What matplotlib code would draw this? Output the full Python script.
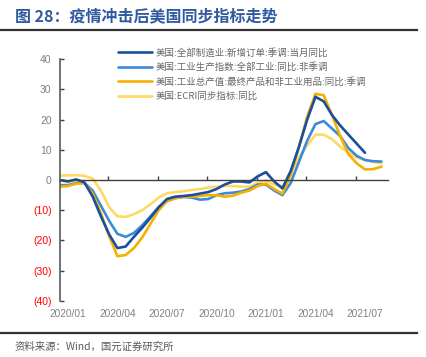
import matplotlib
matplotlib.use("Agg")
import matplotlib.pyplot as plt
from matplotlib.lines import Line2D

plt.rcParams['font.family'] = ['Liberation Sans', 'Noto Sans CJK SC', 'DejaVu Sans']

# months counted from 2020/01 (= 0), half-month steps
months = [-0.5, 0, 0.5, 1, 1.5, 2, 2.5, 3, 3.5, 4, 4.5, 5, 5.5, 6, 6.5, 7, 7.5, 8, 8.5, 9,
          9.5, 10, 10.5, 11, 11.5, 12, 12.5, 13, 13.5, 14, 14.5, 15, 15.5, 16, 16.5, 17,
          17.5, 18, 18.5, 19]

# 美国:全部制造业:新增订单 (ends 2021/07)
new_orders = [0, -0.5, 0.2, -0.8, -5.5, -12, -18, -22.5, -22, -18.8, -15.8, -12.5, -9, -6.3,
              -5.5, -5.3, -5, -4.5, -4, -3, -1.5, -0.5, -0.5, -0.8, 1.2, 2.6, -0.5, -2.8,
              3, 11, 20, 27.5, 26, 21.5, 18, 15, 12, 9]
# 美国:工业生产指数
ind_prod = [-1.7, -1.7, -1.0, -1.0, -3.5, -8.5, -13.5, -17.8, -18.8, -17.5, -15, -12, -9, -7,
            -6, -5.6, -5.8, -6.5, -6.3, -5, -4.4, -4.2, -3.8, -3, -1.5, -1.5, -3.5, -5,
            -1, 6, 13, 18.5, 19.5, 17, 14.5, 10.5, 8, 6.6, 6.2, 6.1]
# 美国:工业总产值:最终产品和非工业用品
final_prod = [-2.2, -2.0, -1.2, -1.0, -4.5, -11, -18.5, -25.2, -24.8, -22.5, -19, -14.5, -10,
              -7, -6, -5.5, -5.5, -5.3, -5, -5, -5.5, -5.2, -4.2, -3.5, -2, -1.2, -3, -4.5,
              1.5, 11, 21, 28.5, 28, 21.5, 14.5, 8.5, 5.5, 3.5, 3.6, 4.4]
# 美国:ECRI同步指标
ecri = [1.5, 1.5, 1.6, 1.4, 0.5, -3.5, -9, -12, -12.2, -11.3, -10, -8, -5.8, -4.4, -4, -3.7,
        -3.3, -3, -2.5, -2.2, -2, -2, -2.2, -2.2, -1, -0.2, -1.5, -2.2, 2.5, 7.5, 11.5, 15,
        15, 13.5, 11, 9, 7.5, 6.6, 6, 5.5]

labels = ['美国:全部制造业:新增订单:季调:当月同比',
          '美国:工业生产指数:全部工业:同比:非季调',
          '美国:工业总产值:最终产品和非工业用品:同比:季调',
          '美国:ECRI同步指标:同比']
colors = ['#1a4f9e', '#3d8ad6', '#f5b000', '#ffd966']

xlabels = ['2020/01', '2020/04', '2020/07', '2020/10', '2021/01', '2021/04', '2021/07']
xlabel_pos = [0, 3, 6, 9, 12, 15, 18]
xtick_pos = [2.45, 5.45, 8.45, 11.45, 14.45, 17.45]

fig = plt.figure(figsize=(4.26, 3.57), dpi=100)
ax = fig.add_axes([0.1408, 0.1569, 0.911 - 0.1408, 0.8347 - 0.1569])

series = [new_orders, ind_prod, final_prod, ecri]
# draw light lines first so dark blue stays on top
order = [3, 1, 2, 0]
handles = [None] * 4
for i in order:
    ys = series[i]
    h, = ax.plot(months[:len(ys)], ys, color=colors[i], lw=1.9,
                 solid_capstyle='round', solid_joinstyle='round')
    handles[i] = h

ax.set_xlim(-0.48, 19.4)
ax.set_ylim(-40, 40)

for s in ['top', 'right']:
    ax.spines[s].set_visible(False)
ax.spines['left'].set_color('#595959')
ax.spines['left'].set_linewidth(1.2)
ax.spines['bottom'].set_position(('data', 0))
ax.spines['bottom'].set_color('#404040')
ax.spines['bottom'].set_linewidth(1.0)

yt = list(range(-40, 41, 10))
ax.set_yticks(yt)
ax.set_yticklabels(['(%d)' % -v if v < 0 else str(v) for v in yt])
for v, t in zip(yt, ax.get_yticklabels()):
    t.set_color('#ff0000' if v < 0 else '#808080')
ax.tick_params(axis='y', direction='in', length=3, width=1, color='#404040',
               labelsize=7.5, pad=6)

ax.set_xticks(xtick_pos)
ax.set_xticklabels([])
ax.tick_params(axis='x', direction='in', length=3, width=1, color='#404040')

sec = ax.secondary_xaxis('bottom')
sec.set_xticks(xlabel_pos)
sec.set_xticklabels(xlabels)
sec.spines['bottom'].set_visible(False)
sec.tick_params(length=0, labelsize=7.3, labelcolor='#808080', pad=6)

leg = ax.legend(handles, labels, loc='upper left', bbox_to_anchor=(0.277, 0.866),
                bbox_transform=fig.transFigure, frameon=False,
                handlelength=3.6, handletextpad=0.35, labelspacing=0.52,
                borderpad=0, borderaxespad=0,
                prop={'family': ['Noto Sans CJK SC', 'DejaVu Sans'], 'size': 6.8})
for t in leg.get_texts():
    t.set_color('#666666')

fig.text(0.035, 1 - 16 / 357, '图 28：疫情冲击后美国同步指标走势', fontsize=11.5,
         fontweight='bold', color='#2f5b9e', va='center',
         family=['Noto Sans CJK SC', 'DejaVu Sans'])
fig.add_artist(Line2D([0, 0.98], [1 - 30 / 357] * 2, color='#333333', lw=1.6))
fig.add_artist(Line2D([0, 0.98], [1 - 333 / 357] * 2, color='#333333', lw=1.6))
fig.text(0.035, 1 - 347 / 357, '资料来源：Wind，国元证券研究所', fontsize=7.5,
         color='#595959', va='center', family=['Noto Sans CJK SC', 'DejaVu Sans'])

fig.savefig('out.png', dpi=100)
